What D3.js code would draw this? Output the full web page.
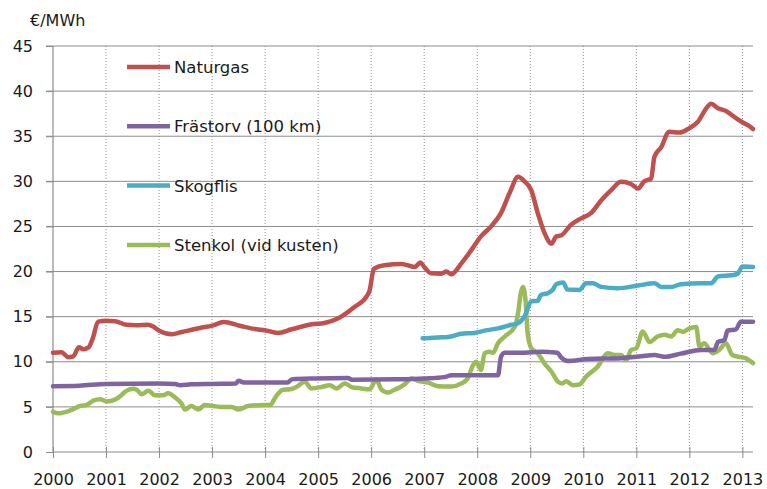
<!DOCTYPE html>
<html>
<head>
<meta charset="utf-8">
<script src="https://cdn.jsdelivr.net/npm/d3@7"></script>
<style>
body { margin: 0; background: #fff; }
text { font-family: "DejaVu Sans", Verdana, sans-serif; fill: #1a1a1a; }
</style>
</head>
<body>
<div id="chart"></div>
<script>
// price series, [decimal year, €/MWh]
var naturgas = [
	[2000.0, 11.0], [2000.16, 11.05], [2000.29, 10.5], [2000.38, 10.6], [2000.49, 11.6], [2000.57, 11.4],
	[2000.67, 11.6], [2000.75, 12.6], [2000.85, 14.45], [2001.0, 14.55], [2001.17, 14.5], [2001.39, 14.1],
	[2001.58, 14.05], [2001.79, 14.1], [2001.89, 13.9], [2002.0, 13.45], [2002.24, 13.05], [2002.43, 13.3],
	[2002.77, 13.75], [2003.0, 14.0], [2003.22, 14.4], [2003.52, 14.0], [2003.84, 13.6], [2003.99, 13.5],
	[2004.24, 13.2], [2004.5, 13.6], [2004.88, 14.15], [2005.12, 14.3], [2005.37, 14.8], [2005.69, 16.1],
	[2005.92, 17.3], [2005.97, 17.9], [2006.05, 20.3], [2006.25, 20.7], [2006.57, 20.85], [2006.82, 20.5],
	[2006.93, 21.0], [2007.0, 20.5], [2007.13, 19.8], [2007.32, 19.75], [2007.42, 20.0], [2007.51, 19.7],
	[2007.7, 20.9], [2007.89, 22.4], [2008.07, 23.9], [2008.26, 25.0], [2008.45, 26.5], [2008.61, 28.7],
	[2008.77, 30.5], [2008.89, 30.0], [2009.02, 29.0], [2009.14, 26.5], [2009.27, 24.25], [2009.4, 23.1],
	[2009.49, 23.9], [2009.58, 24.0], [2009.77, 25.2], [2009.96, 25.9], [2010.15, 26.5], [2010.34, 27.9],
	[2010.53, 29.05], [2010.71, 29.95], [2010.9, 29.7], [2011.03, 29.2], [2011.15, 30.0], [2011.28, 30.3],
	[2011.34, 32.7], [2011.47, 33.8], [2011.62, 35.5], [2011.81, 35.4], [2012.0, 35.9], [2012.16, 36.6],
	[2012.32, 38.1], [2012.41, 38.6], [2012.54, 38.1], [2012.69, 37.8], [2012.88, 37.0], [2013.0, 36.55],
	[2013.16, 36.0], [2013.2, 35.8]
];

var frastorv = [
	[2000.0, 7.3], [2000.5, 7.35], [2001.0, 7.55], [2002.0, 7.6], [2002.3, 7.55], [2002.4, 7.4],
	[2002.6, 7.5], [2003.0, 7.55], [2003.45, 7.6], [2003.5, 7.9], [2003.6, 7.7], [2004.43, 7.7],
	[2004.5, 8.05], [2004.93, 8.15], [2005.56, 8.2], [2005.65, 8.0], [2006.45, 8.05], [2007.0, 8.15],
	[2007.38, 8.3], [2007.51, 8.5], [2008.39, 8.5], [2008.45, 10.6], [2008.52, 11.0], [2008.89, 11.0],
	[2009.2, 11.1], [2009.51, 11.0], [2009.58, 10.5], [2009.71, 10.1], [2010.08, 10.3], [2010.71, 10.4],
	[2011.09, 10.6], [2011.34, 10.75], [2011.53, 10.55], [2011.84, 10.9], [2012.22, 11.3], [2012.47, 11.3],
	[2012.54, 12.2], [2012.66, 12.4], [2012.72, 13.45], [2012.88, 13.6], [2012.97, 14.45], [2013.2, 14.45]
];

var skogflis = [
	[2006.97, 12.6], [2007.26, 12.7], [2007.45, 12.75], [2007.7, 13.1], [2007.95, 13.2], [2008.14, 13.45],
	[2008.39, 13.7], [2008.64, 14.1], [2008.76, 14.25], [2008.89, 15.0], [2009.02, 16.7], [2009.14, 16.75],
	[2009.2, 17.4], [2009.33, 17.6], [2009.42, 17.95], [2009.49, 18.6], [2009.62, 18.8], [2009.7, 18.0],
	[2009.93, 17.95], [2010.05, 18.7], [2010.18, 18.7], [2010.34, 18.3], [2010.65, 18.15], [2011.03, 18.45],
	[2011.34, 18.7], [2011.47, 18.3], [2011.66, 18.3], [2011.84, 18.6], [2012.22, 18.7], [2012.41, 18.7],
	[2012.54, 19.45], [2012.79, 19.6], [2012.91, 19.75], [2013.0, 20.55], [2013.2, 20.5]
];

var stenkol = [
	[2000.0, 4.45], [2000.1, 4.3], [2000.32, 4.6], [2000.51, 5.1], [2000.63, 5.2], [2000.76, 5.7],
	[2000.89, 5.85], [2001.01, 5.6], [2001.17, 5.8], [2001.26, 6.15], [2001.39, 6.8], [2001.51, 7.0],
	[2001.58, 6.9], [2001.67, 6.4], [2001.8, 6.8], [2001.92, 6.3], [2002.08, 6.3], [2002.17, 6.5],
	[2002.3, 6.05], [2002.42, 5.4], [2002.49, 4.7], [2002.61, 5.1], [2002.74, 4.7], [2002.86, 5.2],
	[2003.02, 5.1], [2003.18, 5.0], [2003.37, 5.0], [2003.5, 4.7], [2003.68, 5.1], [2003.99, 5.2],
	[2004.09, 5.2], [2004.21, 6.2], [2004.34, 6.9], [2004.47, 6.95], [2004.59, 7.2], [2004.75, 7.8],
	[2004.87, 7.05], [2005.06, 7.2], [2005.22, 7.4], [2005.35, 7.05], [2005.5, 7.6], [2005.63, 7.2],
	[2005.81, 7.05], [2005.97, 6.95], [2006.1, 8.05], [2006.19, 6.95], [2006.32, 6.6], [2006.44, 6.9],
	[2006.5, 7.05], [2006.63, 7.5], [2006.76, 8.15], [2006.88, 7.9], [2007.07, 7.7], [2007.26, 7.3],
	[2007.51, 7.25], [2007.7, 7.6], [2007.82, 8.15], [2007.92, 9.6], [2007.98, 10.0], [2008.07, 9.1],
	[2008.14, 10.95], [2008.23, 11.1], [2008.3, 11.0], [2008.39, 12.05], [2008.52, 12.8], [2008.71, 13.9],
	[2008.77, 15.4], [2008.82, 17.6], [2008.86, 18.3], [2008.91, 16.85], [2008.95, 13.2], [2009.02, 11.5],
	[2009.14, 10.95], [2009.27, 9.8], [2009.4, 8.9], [2009.52, 7.8], [2009.6, 7.6], [2009.68, 7.85],
	[2009.8, 7.4], [2009.93, 7.5], [2010.05, 8.35], [2010.27, 9.45], [2010.46, 10.95], [2010.59, 10.75],
	[2010.71, 10.75], [2010.81, 10.2], [2010.9, 11.3], [2011.0, 11.5], [2011.12, 13.35], [2011.25, 12.2],
	[2011.4, 12.8], [2011.53, 13.0], [2011.66, 12.8], [2011.78, 13.5], [2011.88, 13.3], [2011.97, 13.6],
	[2012.06, 13.8], [2012.13, 13.85], [2012.19, 11.7], [2012.28, 12.05], [2012.44, 10.95], [2012.56, 11.3],
	[2012.69, 12.05], [2012.81, 10.75], [2012.94, 10.55], [2013.06, 10.4], [2013.2, 9.85]
];

var seriesNames = ["Naturgas", "Frästorv (100 km)", "Skogflis", "Stenkol (vid kusten)"];
var seriesColors = ["#c0504d", "#8064a2", "#4bacc6", "#9bbb59"];
var yearTicks = d3.range(2000, 2014);
var valueTicks = d3.range(0, 50, 5);

var width = 767,
height = 489;

var svg = d3.select("#chart")
.append("svg")
.attr("width", width)
.attr("height", height);

var xScale = d3.scaleLinear()
.domain([2000, 2013.2])
.range([53, 753]);

var yScale = d3.scaleLinear()
.domain([0, 45])
.range([452, 46]);

// horizontal grid
svg.selectAll(".hgrid")
.data(valueTicks.slice(1))
.enter()
.append("line")
.attr("x1", 46)
.attr("x2", 753)
.attr("y1", function(d) { return yScale(d); })
.attr("y2", function(d) { return yScale(d); })
.attr("stroke", "#8c8c8c")
.attr("stroke-width", 1);

// vertical dotted grid
svg.selectAll(".vgrid")
.data(yearTicks.slice(1))
.enter()
.append("line")
.attr("x1", function(d) { return xScale(d); })
.attr("x2", function(d) { return xScale(d); })
.attr("y1", yScale(45))
.attr("y2", yScale(0))
.attr("stroke", "#8c8c99")
.attr("stroke-width", 1)
.attr("stroke-dasharray", "1,2");

// y axis
var yAxis = d3.axisLeft(yScale)
.tickValues(valueTicks)
.tickSize(7)
.tickPadding(13);

var yG = svg.append("g")
.attr("transform", "translate(53,0)")
.call(yAxis);

// x axis
var xAxis = d3.axisBottom(xScale)
.tickValues(yearTicks)
.tickFormat(d3.format("d"))
.tickSize(6)
.tickPadding(16);

var xG = svg.append("g")
.attr("transform", "translate(0,452)")
.call(xAxis);

xG.selectAll(".tick line").attr("y1", -5);

[yG, xG].forEach(function(g) {
	g.select(".domain").attr("stroke", "#8c8c8c").attr("stroke-width", 1.2);
	g.selectAll(".tick line").attr("stroke", "#8c8c8c");
	g.selectAll("text")
	.attr("font-family", "DejaVu Sans, Verdana, sans-serif")
	.attr("font-size", "16px")
	.attr("fill", "#1a1a1a");
});
xG.select(".domain").attr("d", "M53,0H753");
yG.select(".domain").attr("d", "M0,452V46");

var line = d3.line()
.x(function(d) { return xScale(d[0]); })
.y(function(d) { return yScale(d[1]); })
.curve(d3.curveMonotoneX);

var allSeries = [naturgas, frastorv, skogflis, stenkol];

// draw back-to-front so the red line sits on top
[3, 2, 1, 0].forEach(function(i) {
	svg.append("path")
	.datum(allSeries[i])
	.attr("d", line)
	.attr("fill", "none")
	.attr("stroke", seriesColors[i])
	.attr("stroke-width", 4.5)
	.attr("stroke-linejoin", "round")
	.attr("stroke-linecap", "round");
});

// legend
var legend = svg.selectAll(".legend")
.data(seriesNames)
.enter()
.append("g")
.attr("transform", function(d, i) {
	return "translate(127," + (67 + i * 59.3) + ")";
});

legend.append("line")
.attr("x1", 0)
.attr("x2", 43)
.attr("stroke", function(d, i) { return seriesColors[i]; })
.attr("stroke-width", 4.5);

legend.append("text")
.attr("x", 47)
.attr("y", 6)
.attr("font-size", "16.5px")
.text(function(d) { return d; });

// unit label
svg.append("text")
.attr("x", 30)
.attr("y", 26)
.attr("font-size", "16px")
.text("€/MWh");
</script>
</body>
</html>
